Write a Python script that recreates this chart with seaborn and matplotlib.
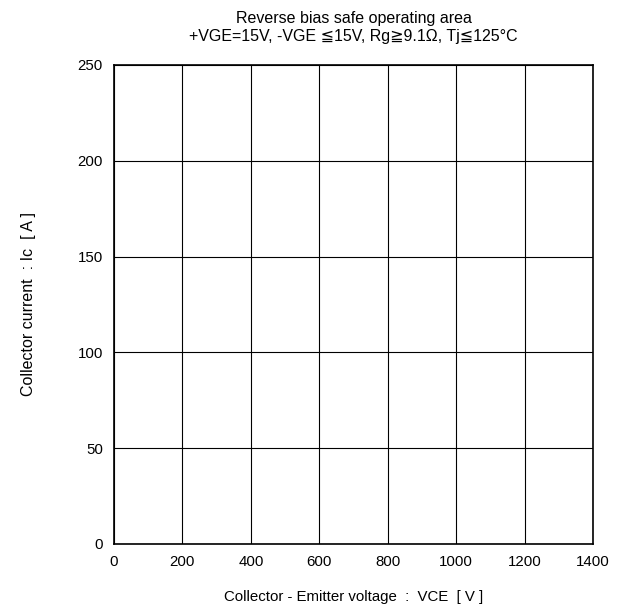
import matplotlib
matplotlib.use('Agg')
import matplotlib.pyplot as plt
import seaborn as sns
import pandas as pd

# 轴范围与刻度
x_ticks = [0, 200, 400, 600, 800, 1000, 1200, 1400]
y_ticks = [0, 50, 100, 150, 200, 250]
y_minor = [25, 75, 125, 175, 225]

title = 'Reverse bias safe operating area\n+VGE=15V, -VGE \u226615V, Rg\u22679.1\u03a9, Tj\u2266125\u00b0C'
x_label = 'Collector - Emitter voltage  :  VCE  [ V ]'
y_label = 'Collector current  : Ic  [ A ]'

sns.set_style('white')
plt.rcParams['font.family'] = ['Liberation Sans', 'DejaVu Sans']
plt.rcParams['font.size'] = 10
plt.rcParams['text.color'] = 'black'
plt.rcParams['axes.labelcolor'] = 'black'

fig = plt.figure(figsize=(6.24, 6.07), dpi=100)
ax = fig.add_axes([0.1827, 0.1038, 0.7675, 0.7892])

# 无数据曲线，只画空坐标
empty = pd.DataFrame({'VCE': [], 'Ic': []})
sns.lineplot(data=empty, x='VCE', y='Ic', ax=ax)

ax.set_xlim(x_ticks[0], x_ticks[-1])
ax.set_ylim(y_ticks[0], y_ticks[-1])
ax.set_xticks(x_ticks)
ax.set_yticks(y_ticks)
ax.set_yticks(y_minor, minor=True)
ax.grid(True, which='major', color='black', linewidth=0.8)
ax.tick_params(which='both', direction='in', colors='black', labelsize=10.8)
ax.tick_params(which='major', length=5, width=1)
ax.tick_params(which='minor', length=3, width=1)
ax.tick_params(axis='x', pad=8)
ax.tick_params(axis='y', pad=8)
for s in ax.spines.values():
    s.set_color('black')
    s.set_linewidth(1.2)

ax.set_title(title, fontsize=11.5, linespacing=1.25, pad=17, color='black')
ax.set_xlabel(x_label, fontsize=10.8, labelpad=15)
ax.set_ylabel(y_label, fontsize=11.5, labelpad=30)

plt.savefig('out.png', dpi=100)
